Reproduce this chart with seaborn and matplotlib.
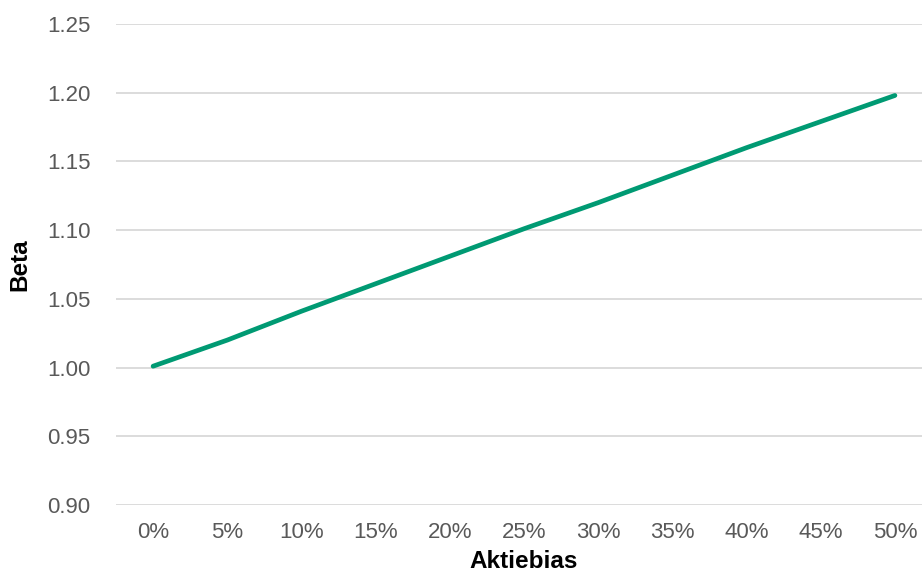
import matplotlib
matplotlib.use("Agg")
import matplotlib.pyplot as plt
import seaborn as sns
import pandas as pd

# Equity bias (x) against resulting portfolio beta (y)
bias_labels = ["0%", "5%", "10%", "15%", "20%", "25%", "30%", "35%", "40%", "45%", "50%"]
beta_values = [1.001, 1.020, 1.041, 1.061, 1.081, 1.101, 1.120, 1.140, 1.160, 1.179, 1.198]
y_ticks = [0.90, 0.95, 1.00, 1.05, 1.10, 1.15, 1.20, 1.25]

df = pd.DataFrame({"pos": range(len(bias_labels)), "beta": beta_values})

sns.set_theme(style="white")
plt.rcParams["font.family"] = ["Liberation Sans", "DejaVu Sans"]

fig = plt.figure(figsize=(9.22, 5.75), dpi=100)
ax = fig.add_axes([116 / 922, 1 - 505 / 575, (932 - 116) / 922, (505 - 24) / 575])

sns.lineplot(data=df, x="pos", y="beta", ax=ax, color="#009A73", linewidth=3.4,
             solid_capstyle="round")

ax.set_xlim(-0.5, len(bias_labels) - 0.5)
ax.set_ylim(0.90, 1.25)
ax.set_xticks(range(len(bias_labels)))
ax.set_xticklabels(bias_labels)
ax.set_yticks(y_ticks)
ax.set_yticklabels([f"{v:.2f}" for v in y_ticks])

ax.yaxis.grid(True, color="#D9D9D9", linewidth=1.3)
ax.xaxis.grid(False)
ax.set_axisbelow(True)
for s in ax.spines.values():
    s.set_visible(False)

ax.tick_params(axis="both", length=0, labelsize=16, labelcolor="#595959")
ax.tick_params(axis="y", pad=18.5)
ax.tick_params(axis="x", pad=12)

ax.set_xlabel("Aktiebias", fontsize=17.5, fontweight="bold", color="black", labelpad=5)
ax.set_ylabel("Beta", fontsize=17.5, fontweight="bold", color="black", labelpad=11)

fig.savefig("out.png", dpi=100)
